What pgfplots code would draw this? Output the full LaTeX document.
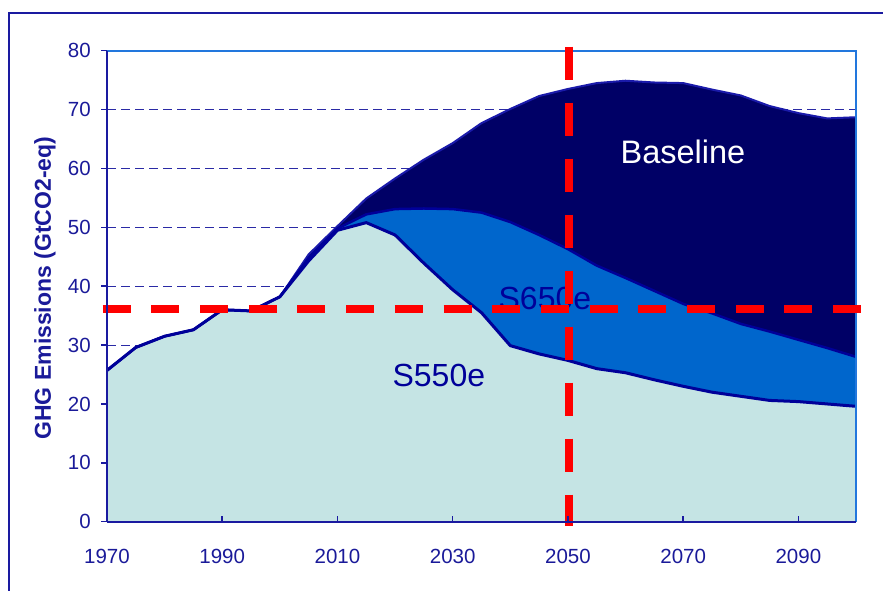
\documentclass[border=0pt]{standalone}
\usepackage{fontspec}
\setmainfont{Liberation Sans}
\usepackage{pgfplots}
\usepackage{pgfplotstable}
\pgfplotsset{compat=1.18}
\definecolor{navyfill}{HTML}{000066}
\definecolor{midblue}{HTML}{0066CC}
\definecolor{lightfill}{HTML}{C5E4E4}
\definecolor{edge}{HTML}{000099}
\definecolor{baseedge}{HTML}{1A1AAA}
\definecolor{txtblue}{HTML}{1A1A99}
\definecolor{frameblue}{HTML}{1A1AA0}
\definecolor{boxblue}{HTML}{2277DD}
\definecolor{gridblue}{HTML}{2A2AA5}

\pgfplotstableread{
year s550 s650 base
1970 25.7 25.7 25.7
1975 29.6 29.6 29.6
1980 31.5 31.5 31.5
1985 32.6 32.6 32.6
1990 36.0 36.0 36.0
1995 35.8 35.8 35.8
2000 38.2 38.2 38.2
2005 44.3 44.8 45.4
2010 49.5 49.8 50.2
2015 50.8 52.2 54.9
2020 48.7 53.1 58.3
2025 43.9 53.2 61.5
2030 39.4 53.1 64.3
2035 35.5 52.5 67.7
2040 29.9 50.9 70.1
2045 28.5 48.7 72.3
2050 27.4 46.3 73.5
2055 26.0 43.5 74.5
2060 25.3 41.4 74.9
2065 24.1 39.2 74.6
2070 23.0 37.0 74.5
2075 22.0 35.4 73.4
2080 21.3 33.6 72.4
2085 20.6 32.3 70.6
2090 20.4 30.9 69.4
2095 20.0 29.5 68.5
2100 19.6 28.0 68.7
}\data

\begin{document}
\begin{tikzpicture}[x=1pt,y=1pt]
\draw[frameblue, line width=2pt] (9,-10) -- (9,577) -- (893,577);
\begin{axis}[
  at={(107pt,68.3pt)}, anchor=south west,
  scale only axis, width=749pt, height=471pt,
  xmin=1970, xmax=2100, ymin=0, ymax=80,
  axis x line*=bottom, axis y line*=left,
  axis line style={-, frameblue, line width=2pt},
  axis on top,
  clip=false,
  no markers,
  xtick={1970,1990,2010,2030,2050,2070,2090},
  xticklabels={1970,1990,2010,2030,2050,2070,2090},
  ytick={0,10,20,30,40,50,60,70,80},
  tick align=outside,
  major tick length=6pt,
  tick style={frameblue, line width=1.5pt},
  xtick style={yshift=6pt},
  /pgf/number format/assume math mode=true,
  ticklabel style={font=\fontsize{20.5}{24}\selectfont, text=txtblue, inner sep=0pt},
  yticklabel style={anchor=east, xshift=-10pt},
  xticklabel style={anchor=base, yshift=-36pt},
  ylabel={GHG Emissions (GtCO2-eq)},
  ylabel style={font=\bfseries\fontsize{23}{26}\selectfont, text=txtblue,
    at={(axis description cs:-0.0828,0.496)}, anchor=center, inner sep=0pt},
]
% grid lines
\addplot[gridblue, line width=1pt, dash pattern=on 9pt off 5pt] coordinates {(1970,10) (2100,10)};
\addplot[gridblue, line width=1pt, dash pattern=on 9pt off 5pt] coordinates {(1970,20) (2100,20)};
\addplot[gridblue, line width=1pt, dash pattern=on 9pt off 5pt] coordinates {(1970,30) (2100,30)};
\addplot[gridblue, line width=1pt, dash pattern=on 9pt off 5pt] coordinates {(1970,40) (2100,40)};
\addplot[gridblue, line width=1pt, dash pattern=on 9pt off 5pt] coordinates {(1970,50) (2100,50)};
\addplot[gridblue, line width=1pt, dash pattern=on 9pt off 5pt] coordinates {(1970,60) (2100,60)};
\addplot[gridblue, line width=1pt, dash pattern=on 9pt off 5pt] coordinates {(1970,70) (2100,70)};
% areas
\addplot[fill=navyfill, draw=none] table[x=year,y=base]{\data} \closedcycle;
\addplot[fill=midblue, draw=none] table[x=year,y=s650]{\data} \closedcycle;
\addplot[fill=lightfill, draw=none] table[x=year,y=s550]{\data} \closedcycle;
% outlines
\addplot[baseedge, line width=2pt, line join=round] table[x=year,y=base]{\data};
\addplot[edge, line width=2.5pt, line join=round] table[x=year,y=s650]{\data};
\addplot[edge, line width=3pt, line join=round] table[x=year,y=s550]{\data};
% top and right frame
\draw[boxblue, line width=2pt] (rel axis cs:0,1) -- (rel axis cs:1,1) -- (rel axis cs:1,0);
% labels
\node[text=white, font=\fontsize{32.5}{36}\selectfont, anchor=base, inner sep=0pt] at (axis cs:2069.97,60.88) {Baseline};
\node[text=edge, font=\fontsize{32}{36}\selectfont, anchor=base, inner sep=0pt] at (axis cs:2046.0,36.0) {S650e};
\node[text=edge, font=\fontsize{32}{36}\selectfont, anchor=base, inner sep=0pt] at (axis cs:2027.6,22.9) {S550e};
% red reference lines
\addplot[red, line width=8.3pt, line cap=butt, dash pattern=on 28pt off 20.7pt] coordinates {(1969.25,36.15) (2100.87,36.15)};
\addplot[red, line width=8.3pt, line cap=butt, dash pattern=on 33.3pt off 22.7pt] coordinates {(2050.2,80.68) (2050.2,-0.73)};
\end{axis}
\pgfresetboundingbox
\useasboundingbox (0,0) rectangle (883,590);
\end{tikzpicture}
\end{document}
